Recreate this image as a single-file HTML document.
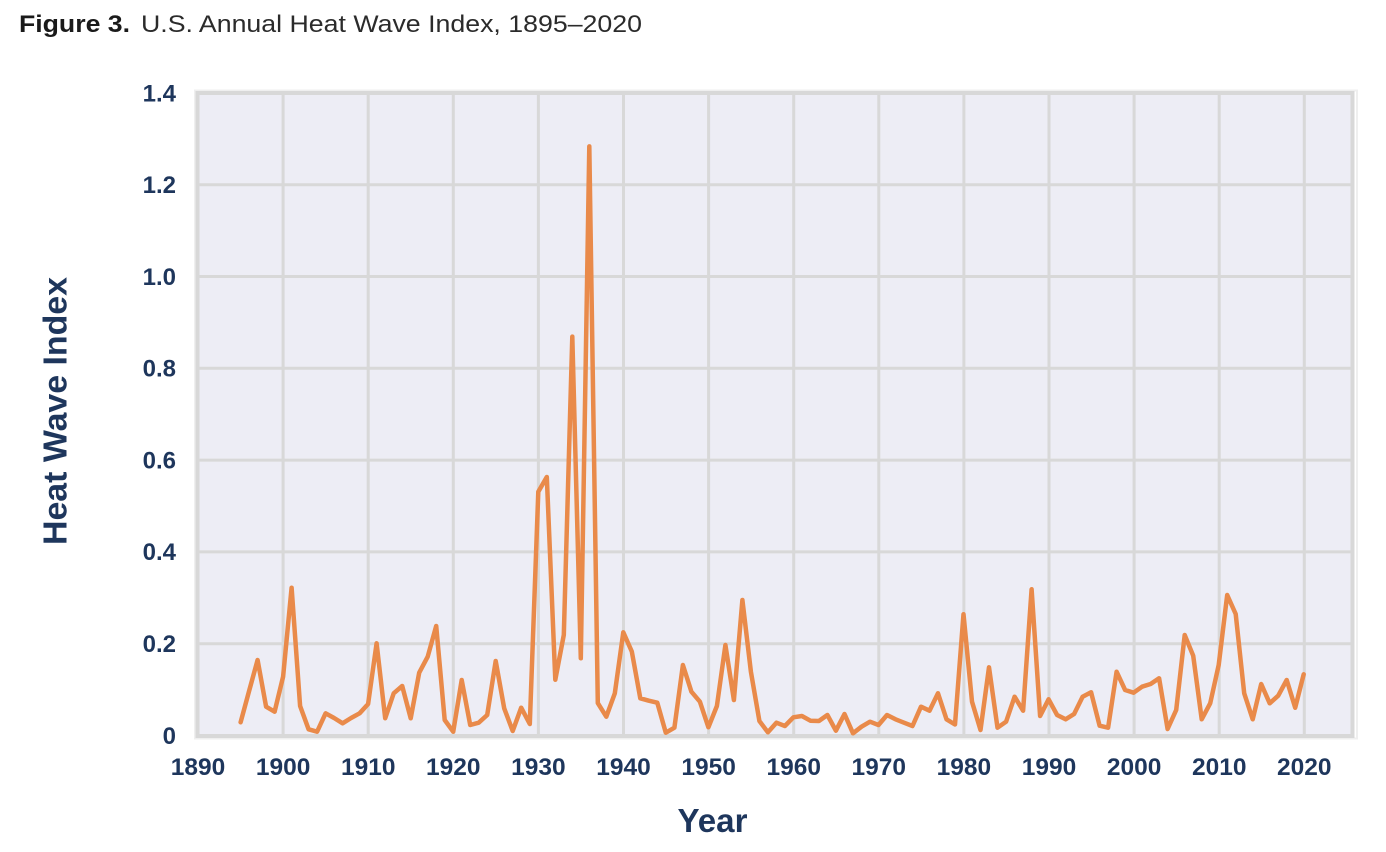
<!DOCTYPE html>
<html>
<head>
<meta charset="utf-8">
<style>
  html, body { margin:0; padding:0; background:#ffffff; }
  body { width:1386px; height:852px; overflow:hidden; }
  svg { display:block; }
  text { font-family: "Liberation Sans", Arial, sans-serif; }
</style>
</head>
<body>
<svg width="1386" height="852" viewBox="0 0 1386 852" xmlns="http://www.w3.org/2000/svg">
  <!-- Title -->
  <text x="19" y="32" font-size="24" font-weight="bold" fill="#1a1a1a" textLength="111" lengthAdjust="spacingAndGlyphs">Figure 3.</text>
  <text x="141" y="32" font-size="24" fill="#2b2b2b" textLength="501" lengthAdjust="spacingAndGlyphs">U.S. Annual Heat Wave Index, 1895–2020</text>

  <!-- Plot background -->
  <rect x="195" y="90.5" width="1162" height="648" fill="none" stroke="#efefef" stroke-width="2"/>
  <rect x="197.5" y="93" width="1155" height="643" fill="#ededf5" stroke="#d8d8d8" stroke-width="4"/>

  <!-- Horizontal gridlines (0.2 .. 1.2) -->
  <g stroke="#d8d8d8" stroke-width="3">
    <line x1="198" y1="643.7" x2="1352" y2="643.7"/>
    <line x1="198" y1="551.9" x2="1352" y2="551.9"/>
    <line x1="198" y1="460.1" x2="1352" y2="460.1"/>
    <line x1="198" y1="368.3" x2="1352" y2="368.3"/>
    <line x1="198" y1="276.5" x2="1352" y2="276.5"/>
    <line x1="198" y1="184.7" x2="1352" y2="184.7"/>
  </g>
  <!-- Vertical gridlines (1900 .. 2020) -->
  <g stroke="#d8d8d8" stroke-width="3">
    <line x1="283.1" y1="93" x2="283.1" y2="736"/>
    <line x1="368.2" y1="93" x2="368.2" y2="736"/>
    <line x1="453.3" y1="93" x2="453.3" y2="736"/>
    <line x1="538.4" y1="93" x2="538.4" y2="736"/>
    <line x1="623.5" y1="93" x2="623.5" y2="736"/>
    <line x1="708.6" y1="93" x2="708.6" y2="736"/>
    <line x1="793.7" y1="93" x2="793.7" y2="736"/>
    <line x1="878.8" y1="93" x2="878.8" y2="736"/>
    <line x1="963.9" y1="93" x2="963.9" y2="736"/>
    <line x1="1049" y1="93" x2="1049" y2="736"/>
    <line x1="1134.1" y1="93" x2="1134.1" y2="736"/>
    <line x1="1219.2" y1="93" x2="1219.2" y2="736"/>
    <line x1="1304.3" y1="93" x2="1304.3" y2="736"/>
  </g>
  <rect x="197.5" y="93" width="1155" height="643" fill="none" stroke="#d8d8d8" stroke-width="4"/>

  <!-- Data line -->
  <polyline fill="none" stroke="#e98a4a" stroke-width="4.5" stroke-linejoin="round" stroke-linecap="round"
    points="240.6,722.3 249.1,691 257.6,660 266.1,706.7 274.6,711.7 283.1,676.7 291.6,587.7 300.1,706 308.6,729.3 317.1,731.7 325.6,713.3 334.1,718 342.6,723.3 351.1,718 359.6,713.3 368.1,704 376.6,643.3 385.2,718.3 393.7,693.3 402.2,686 410.7,718.3 419.2,672.7 427.7,656.7 436.2,626 444.7,720 453.2,731.7 461.7,680 470.2,725 478.7,722.7 487.2,715 495.7,661 504.2,708.3 512.7,731 521.2,707.7 529.8,724 538.3,491.8 546.8,477 555.3,679.7 563.8,634.9 572.3,336.6 580.8,658.3 589.3,146.4 597.8,703.1 606.3,716.7 614.8,693.4 623.3,632.3 631.8,651.5 640.3,698.3 648.8,700.7 657.3,702.7 665.8,732.7 674.4,727.7 682.9,665 691.4,691.7 699.9,701.7 708.4,727.3 716.9,706 725.4,645 733.9,700 742.4,600 750.9,671.7 759.4,721 767.9,732.3 776.4,722.7 784.9,726 793.4,717.3 801.9,716 810.4,720.7 818.9,721 827.4,715 835.9,730.7 844.5,714 853,733.3 861.5,726.7 870,721.7 878.5,725 887,715 895.5,719.3 904,722.7 912.5,726 921,706.7 929.5,710.7 938,693.3 946.5,719.3 955,724.5 963.5,614.2 972,701.7 980.5,730 989,667.3 997.5,727.7 1006.1,721.7 1014.6,696.7 1023.1,710.7 1031.6,589.3 1040.1,716 1048.6,699.3 1057.1,715 1065.6,719.3 1074.1,714 1082.6,696.7 1091.1,692.3 1099.6,725.7 1108.1,727.7 1116.6,671.7 1125.1,690 1133.6,692.7 1142.1,686.7 1150.6,684 1159.1,678.3 1167.6,729 1176.2,710 1184.7,635 1193.2,655.7 1201.7,719.3 1210.2,703.3 1218.7,665 1227.2,595 1235.7,614 1244.2,693.3 1252.7,719.3 1261.2,684 1269.7,703.3 1278.2,695.7 1286.7,680 1295.2,707.7 1303.7,674.3"/>

  <!-- Y tick labels -->
  <g font-size="24" font-weight="bold" fill="#1e365c" text-anchor="end">
    <text x="176" y="744">0</text>
    <text x="176" y="652">0.2</text>
    <text x="176" y="560">0.4</text>
    <text x="176" y="468.5">0.6</text>
    <text x="176" y="376.5">0.8</text>
    <text x="176" y="285">1.0</text>
    <text x="176" y="193">1.2</text>
    <text x="176" y="101.5">1.4</text>
  </g>

  <!-- X tick labels -->
  <g font-size="24.5" font-weight="bold" fill="#1e365c" text-anchor="middle">
    <text x="198" y="775">1890</text>
    <text x="283.1" y="775">1900</text>
    <text x="368.2" y="775">1910</text>
    <text x="453.3" y="775">1920</text>
    <text x="538.4" y="775">1930</text>
    <text x="623.5" y="775">1940</text>
    <text x="708.6" y="775">1950</text>
    <text x="793.7" y="775">1960</text>
    <text x="878.8" y="775">1970</text>
    <text x="963.9" y="775">1980</text>
    <text x="1049" y="775">1990</text>
    <text x="1134.1" y="775">2000</text>
    <text x="1219.2" y="775">2010</text>
    <text x="1304.3" y="775">2020</text>
  </g>

  <!-- Axis titles -->
  <text transform="translate(66.5,411) rotate(-90)" font-size="33" font-weight="bold" fill="#1e365c" text-anchor="middle" textLength="268" lengthAdjust="spacingAndGlyphs">Heat Wave Index</text>
  <text x="712.5" y="832" font-size="33" font-weight="bold" fill="#1e365c" text-anchor="middle" textLength="70" lengthAdjust="spacingAndGlyphs">Year</text>
</svg>
</body>
</html>
